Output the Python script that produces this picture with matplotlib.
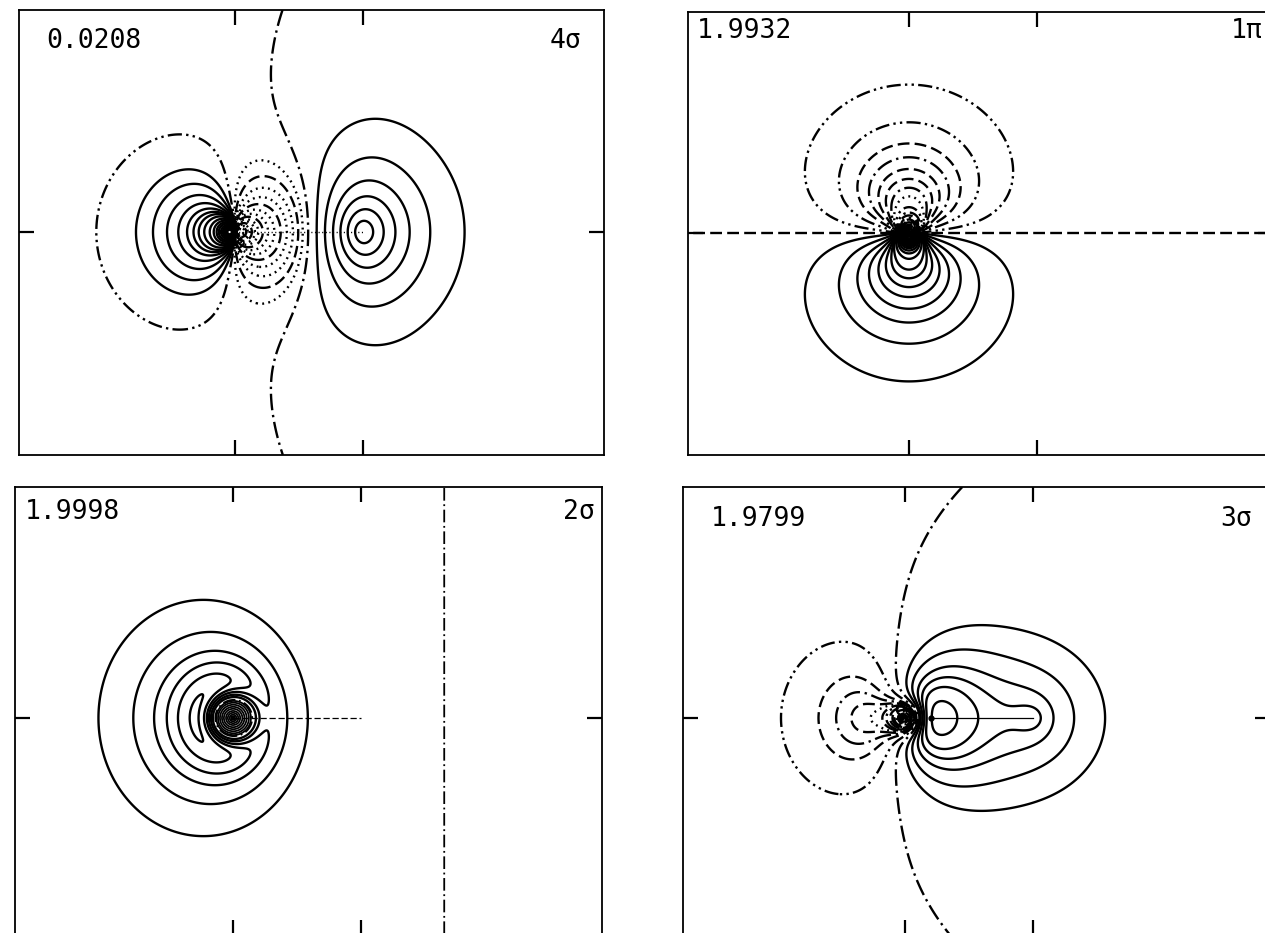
import numpy as np
import matplotlib
matplotlib.use("Agg")
import matplotlib.pyplot as plt

# DATA

# positions of the two nuclei along the bond axis (heavy atom at 0, partner at 1)
nuclei_x = [0.0, 1.0]

# occupation numbers and orbital names printed in the panels
occupations = ["0.0208", "1.9932", "1.9998", "1.9799"]
orbital_names = ["4σ", "1π", "2σ", "3σ"]

# 4 sigma: model terms (kind, coefficient, exponent, nucleus, vertical stretch)
sig4_kind = ["px", "px", "px", "s", "s", "s"]
sig4_coef = [-1.0, -3.0, -30.0, -0.035, 0.085, 0.08]
sig4_expo = [4.7, 14.0, 30.0, 1.4, 2.2, 3.0]
sig4_site = [0, 0, 0, 0, 1, 1]
sig4_stretch = [1.0, 1.0, 1.0, 1.0, 1.0, 1.5]
sig4_pos_heavy = [0.0107, 0.0204, 0.0318, 0.0437, 0.0552, 0.0655, 0.0758,
                  0.0904, 0.113, 0.14, 0.17, 0.2, 0.24, 0.28, 0.32, 0.36, 0.4]
sig4_pos_light = [0.019, 0.038, 0.0575, 0.0766, 0.097, 0.12]
sig4_neg = [-0.012, -0.022, -0.034, -0.048, -0.063, -0.08, -0.1, -0.122,
            -0.15, -0.18, -0.22, -0.26, -0.3, -0.34, -0.38, -0.42]

# 1 pi
pi1_kind = ["py", "py", "py"]
pi1_coef = [-1.0, -0.8, -30.0]
pi1_expo = [4.1, 11.0, 30.0]
pi1_site = [0, 0, 0]
pi1_stretch = [1.0, 1.0, 1.0]
pi1_levels = [0.01, 0.025, 0.04, 0.053, 0.066, 0.078, 0.089, 0.1, 0.12,
              0.145, 0.17, 0.2, 0.23, 0.26, 0.29, 0.32, 0.35, 0.38, 0.41]

# 2 sigma
sig2_kind = ["s", "px", "s"]
sig2_coef = [1.0, -0.606, -7.54]
sig2_expo = [2.0, 2.0, 16.1]
sig2_site = [0, 0, 0]
sig2_stretch = [1.1, 1.1, 1.0]
sig2_pos = [0.2, 0.31, 0.40, 0.465, 0.526, 0.58]
sig2_neg = [-0.1, -0.3, -0.6, -1.0, -1.5, -2.2, -3.0, -4.0, -5.0, -6.0]

# 3 sigma
sig3_kind = ["px", "s", "s", "s", "s"]
sig3_coef = [1.0, 0.12, 0.07, -0.0262, -0.55]
sig3_expo = [4.0, 4.0, 2.0, 1.4, 14.0]
sig3_site = [0, 0, 1, 0, 0]
sig3_stretch = [1.0, 1.0, 1.0, 1.0, 1.0]
sig3_pos = [0.023, 0.04, 0.058, 0.073, 0.088, 0.108]
sig3_neg = [-0.023, -0.045, -0.058, -0.068, -0.076, -0.088, -0.1, -0.12,
            -0.14, -0.16, -0.19, -0.22, -0.25, -0.28, -0.31, -0.34, -0.37,
            -0.4, -0.43]
sig3_bond_start = 0.2

# LAYOUT (pixels)
W, H = 1265, 933
PX = 128.0  # pixels per bond length
LW = 1.7

# panel boxes: left, right, top, bottom, heavy atom x, axis y
box_4s = [19, 604, 10, 455, 235, 232]
box_1p = [688, 1273, 12, 455, 909, 233]
box_2s = [15, 602, 487, 935, 233, 718]
box_3s = [683, 1270, 487, 935, 905, 718]

styles = {
    "solid": "-",
    "dash": (0, (5, 2.2)),
    "dot": (0, (0.8, 1.8)),
    "dashdot": (0, (7, 2, 1, 2)),
    "dashdotdot": (0, (6, 1.8, 1, 1.8, 1, 1.8)),
}

fig = plt.figure(figsize=(W / 100, H / 100), dpi=100)


def orbital(kind, coef, expo, site, stretch, X, Y):
    F = np.zeros_like(X)
    for k, c, a, s, st in zip(kind, coef, expo, site, stretch):
        dx = X - nuclei_x[s]
        term = c * np.exp(-a * np.hypot(dx, Y / st))
        if k == "px":
            term = term * dx
        elif k == "py":
            term = term * Y
        F = F + term
    return F


def panel(box):
    left, right, top, bottom, hx, ay = box
    ax = fig.add_axes([left / W, 1 - bottom / H, (right - left) / W, (bottom - top) / H])
    xlim = ((left - hx) / PX, (right - hx) / PX)
    ylim = ((ay - bottom) / PX, (ay - top) / PX)
    ax.set_xlim(xlim)
    ax.set_ylim(ylim)
    ax.set_xticks(nuclei_x)
    ax.set_yticks([0.0])
    ax.tick_params(direction="in", length=11, width=1.6, top=True, right=True,
                   labelbottom=False, labelleft=False, colors="k")
    for sp in ax.spines.values():
        sp.set_linewidth(1.3)
    x = np.linspace(xlim[0], xlim[1], 1100)
    y = np.linspace(ylim[0], ylim[1], 840)
    X, Y = np.meshgrid(x, y)
    return ax, X, Y


def draw(ax, X, Y, F, levels, cycle, lw=LW):
    # style i of the cycle goes to level i (levels listed from outer to inner)
    names = [cycle[i % len(cycle)] for i in range(len(levels))]
    pairs = sorted(zip(levels, names))
    lv = [p[0] for p in pairs]
    ls = [styles[p[1]] for p in pairs]
    ax.contour(X, Y, F, levels=lv, colors="k", linewidths=lw, linestyles=ls)


def label(x, y, s, size=19):
    fig.text(x / W, 1 - y / H, s, fontsize=size, family="DejaVu Sans Mono",
             ha="left", va="baseline", color="k")


# 4 sigma
ax, X, Y = panel(box_4s)
F = orbital(sig4_kind, sig4_coef, sig4_expo, sig4_site, sig4_stretch, X, Y)
draw(ax, X, Y, np.ma.masked_where(X > 0.3, F), sig4_pos_heavy, ["solid"])
draw(ax, X, Y, np.ma.masked_where(X <= 0.3, F), sig4_pos_light, ["solid"])
draw(ax, X, Y, F, sig4_neg, ["dot", "dash", "dot", "dot", "dash", "dot"])
draw(ax, X, Y, np.ma.masked_where(X > 0.15, F), [0.0], ["dashdotdot"])
draw(ax, X, Y, np.ma.masked_where(X <= 0.15, F), [0.0], ["dashdot"])
ax.plot(nuclei_x, [0, 0], color="k", lw=1.0, linestyle=styles["dot"])

# 1 pi
ax, X, Y = panel(box_1p)
F = orbital(pi1_kind, pi1_coef, pi1_expo, pi1_site, pi1_stretch, X, Y)
draw(ax, X, Y, F, pi1_levels, ["solid"])
draw(ax, X, Y, F, [-v for v in pi1_levels],
     ["dashdotdot", "dashdotdot", "dash", "dashdot", "dash", "dash", "dashdot", "dot"])
draw(ax, X, Y, F, [0.0], ["dash"])

# 2 sigma
ax, X, Y = panel(box_2s)
F = orbital(sig2_kind, sig2_coef, sig2_expo, sig2_site, sig2_stretch, X, Y)
draw(ax, X, Y, F, sig2_pos, ["solid"])
draw(ax, X, Y, F, sig2_neg, ["solid"], lw=1.3)
draw(ax, X, Y, F, [0.0], ["dashdot"], lw=1.3)
ax.plot(nuclei_x, [0, 0], color="k", lw=0.9, linestyle=styles["dash"])

# 3 sigma
ax, X, Y = panel(box_3s)
F = orbital(sig3_kind, sig3_coef, sig3_expo, sig3_site, sig3_stretch, X, Y)
draw(ax, X, Y, F, sig3_pos, ["solid"])
draw(ax, X, Y, F, sig3_neg, ["dashdotdot", "dash", "dashdot", "dash", "dot", "dash"])
draw(ax, X, Y, F, [0.0], ["dashdot"])
ax.plot([sig3_bond_start, nuclei_x[1]], [0, 0], color="k", lw=0.9)
ax.plot([sig3_bond_start], [0], "o", color="k", ms=3.5)

# texts
label(46, 48, occupations[0])
label(550, 48, orbital_names[0])
label(697, 38, occupations[1])
label(1231, 38, orbital_names[1])
label(25, 519, occupations[2])
label(563, 519, orbital_names[2])
label(711, 526, occupations[3])
label(1220, 526, orbital_names[3])

fig.savefig("out.png", dpi=100)
